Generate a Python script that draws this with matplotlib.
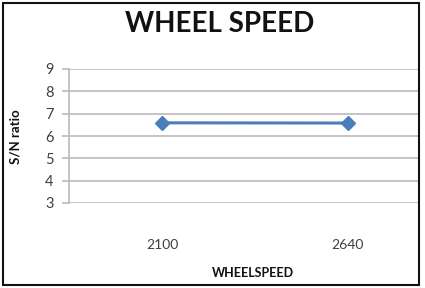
import matplotlib
matplotlib.use("Agg")
import matplotlib.pyplot as plt
from matplotlib.patches import Rectangle

categories = ["2100", "2640"]
sn_ratio = [6.59, 6.58]
yticks = [3, 4, 5, 6, 7, 8, 9]

W, H = 425, 288
fig = plt.figure(figsize=(W / 100, H / 100), dpi=100)

def fx(px):
    return px / W

def fy(py):
    return 1 - py / H

left, right, top, bottom = 69, 419, 69, 203
ax = fig.add_axes([fx(left), fy(bottom), fx(right) - fx(left), fy(top) - fy(bottom)])

x = list(range(len(categories)))
ax.plot(x, sn_ratio, color="#4A7EBB", lw=2.2, marker="D", ms=7.5,
        markeredgecolor="#4A7EBB", markerfacecolor="#4A7EBB", zorder=3, clip_on=False)

ax.set_xlim(-0.5, 1.382)
ax.set_ylim(3, 9)
ax.set_yticks(yticks)
ax.set_xticks(x)
ax.set_xticklabels(categories)
ax.grid(axis="y", color="#BFBFBF", lw=1.3)
ax.set_axisbelow(True)
for s in ["top", "right", "bottom"]:
    ax.spines[s].set_visible(False)
ax.spines["left"].set_color("#BFBFBF")
ax.spines["left"].set_linewidth(1.3)
ax.tick_params(axis="y", length=5, width=1.3, color="#BFBFBF", labelsize=10.5,
               labelcolor="#404040", pad=6)
ax.tick_params(axis="x", length=0, labelsize=10, labelcolor="#404040", pad=26)

fnt = "Lato"
for lab in ax.get_xticklabels() + ax.get_yticklabels():
    lab.set_fontfamily(fnt)

fig.text(fx(220), fy(24), "WHEEL SPEED", ha="center", va="center",
         fontsize=20, fontweight="bold", family=fnt, color="#111111")
fig.text(fx(253), fy(273), "WHEELSPEED", ha="center", va="center",
         fontsize=9, fontweight="bold", family=fnt, color="#111111")
fig.text(fx(15), fy(137), "S/N ratio", ha="center", va="center", rotation=90,
         fontsize=9.5, fontweight="bold", family=fnt, color="#111111")

fig.patches.append(Rectangle((fx(3), fy(285)), fx(419) - fx(3), fy(3) - fy(285),
                             transform=fig.transFigure, fill=False,
                             edgecolor="#111111", lw=1.5))

fig.savefig("out.png", dpi=100)
